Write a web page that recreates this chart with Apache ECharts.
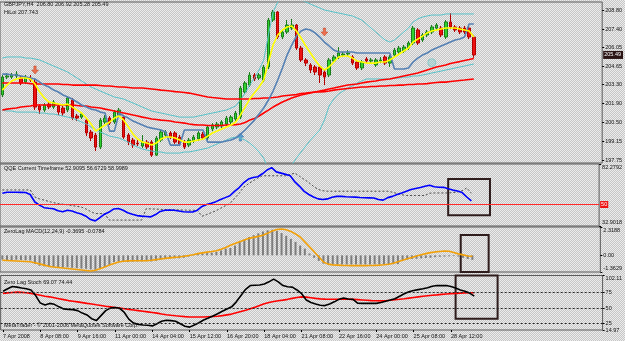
<!DOCTYPE html>
<html><head><meta charset="utf-8">
<script src="https://cdn.jsdelivr.net/npm/echarts/dist/echarts.min.js"></script>
<style>html,body{margin:0;padding:0;background:#d6d6d6;}#c{width:625px;height:341px;}</style>
</head><body><div id="c"></div>
<script>
// ---------- DATA ----------
const timeLabels = ['7 Apr 2008','8 Apr 08:00','9 Apr 16:00','11 Apr 00:00','14 Apr 04:00','15 Apr 12:00','16 Apr 20:00','18 Apr 04:00','21 Apr 08:00','22 Apr 16:00','24 Apr 00:00','25 Apr 08:00','28 Apr 12:00'];
const barsPerLabel = 8;
const slotCount = 129;

const opens = [202.54,203.86,203.86,203.94,203.79,203.49,203.72,203.49,201.73,201.43,
201.87,201.65,201.73,201.58,201.43,202.17,200.99,200.91,200.69,199.81,
199.59,198.70,200.55,200.84,200.55,201.06,200.91,199.59,199.22,199.00,
198.78,199.07,199.07,198.11,199.22,199.59,199.74,199.74,199.44,199.07,
198.85,199.15,199.30,199.66,199.37,200.03,200.18,200.25,200.40,200.55,
200.77,200.91,202.76,203.27,204.01,203.79,203.64,204.60,208.06,208.65,
206.81,207.18,207.47,207.69,206.00,205.12,204.75,204.60,204.60,204.23,
204.01,205.04,205.34,205.48,205.56,205.34,204.97,204.53,205.19,205.04,
204.75,205.04,205.34,204.89,205.48,205.71,205.78,206.00,206.37,207.33,
206.59,206.96,207.18,207.47,207.47,206.81,207.92,207.55,207.47,207.47,
207.47,206.80];
const closes = [203.86,203.94,204.01,204.08,203.42,203.86,203.64,201.65,201.43,201.80,
201.65,202.02,201.28,201.21,202.32,200.84,200.84,201.14,199.74,199.37,
198.70,200.69,200.84,200.47,201.28,201.43,199.44,199.07,198.85,198.93,
199.07,198.70,198.11,199.37,199.81,199.81,199.44,199.07,198.93,198.70,
199.22,199.44,199.74,199.37,200.18,200.33,200.40,200.55,200.84,200.91,
201.21,203.05,203.42,204.01,203.72,204.01,204.60,208.06,208.65,206.81,
207.18,207.69,207.69,206.00,205.12,204.89,204.38,204.23,204.01,203.86,
205.12,205.34,205.63,205.56,205.63,204.89,204.53,204.97,205.04,205.12,
205.12,205.12,204.89,205.34,205.85,206.00,206.07,206.37,207.47,206.37,
206.96,207.18,207.55,207.69,206.96,207.92,207.55,207.33,207.18,207.18,
206.81,205.49];
const highs = [204.01,204.16,204.16,204.30,203.94,204.01,204.01,203.72,201.87,201.95,
202.02,202.17,201.87,201.73,202.46,202.32,201.14,201.28,200.84,199.96,
199.74,200.84,201.06,200.99,201.43,201.58,201.06,199.74,199.37,199.22,
199.59,199.22,199.22,199.51,200.03,199.96,199.88,199.88,199.59,199.22,
199.37,199.59,199.88,199.81,200.33,200.47,200.55,200.69,200.99,201.06,
201.36,203.20,203.57,204.23,204.16,204.16,204.75,208.21,208.80,208.72,
207.33,208.06,208.14,207.77,206.15,205.26,204.89,204.75,204.67,204.38,
205.26,205.48,206.07,205.71,205.85,205.48,205.12,205.12,205.34,205.26,
205.26,205.34,205.48,205.48,206.00,206.15,206.22,206.52,207.62,207.47,
207.11,207.33,207.69,207.84,207.62,208.06,208.58,207.69,207.62,207.62,
207.62,206.92];
const lows = [202.39,203.72,203.72,203.79,203.27,203.35,203.49,201.43,201.14,201.28,
201.50,201.50,201.06,200.99,201.28,200.69,200.62,200.77,199.51,199.15,
198.41,198.56,200.40,200.33,200.40,200.91,199.30,198.85,198.63,198.78,
198.63,198.56,197.97,198.04,199.07,199.44,199.30,198.93,198.78,198.56,
198.70,199.00,199.15,199.22,199.22,199.88,200.03,200.10,200.25,200.40,
200.62,200.77,202.61,203.13,203.57,203.64,203.49,204.45,207.92,206.66,
206.66,207.03,207.33,205.85,204.97,204.67,204.16,204.01,203.42,203.27,
203.86,204.89,205.19,205.34,205.41,204.75,204.38,204.38,204.89,204.89,
204.60,204.89,204.75,204.60,205.34,205.56,205.63,205.85,206.22,206.22,
206.44,206.81,207.03,207.33,206.81,206.66,207.40,207.18,207.03,207.03,
206.66,205.28];
const fastMA = [202.90,203.27,203.57,203.72,203.79,203.79,203.72,203.35,202.76,202.32,
202.02,201.95,201.87,201.80,201.87,201.65,201.43,201.21,200.84,200.40,
199.88,200.10,200.33,200.55,200.84,200.99,200.69,200.18,199.66,199.30,
199.07,199.00,198.85,199.00,199.30,199.44,199.44,199.37,199.22,199.07,
199.07,199.15,199.22,199.30,199.51,199.74,199.88,200.03,200.18,200.33,
200.55,201.06,201.65,202.24,202.68,203.13,203.64,204.97,206.22,206.96,
207.33,207.55,207.62,207.25,206.74,206.15,205.63,205.12,204.67,204.38,
204.60,204.97,205.34,205.41,205.41,205.26,205.04,204.97,204.89,204.89,
204.89,204.97,204.97,205.12,205.34,205.56,205.78,206.00,206.44,206.66,
206.88,207.11,207.25,207.33,207.40,207.47,207.47,207.47,207.40,207.33,
207.25,206.81];
const hiLo = [204.08,204.08,204.01,204.01,203.94,203.86,203.79,203.72,203.49,203.27,
203.13,202.90,202.76,202.54,202.39,202.24,202.02,201.80,201.65,201.50,
201.43,201.28,201.21,199.88,199.88,201.21,200.99,200.84,200.62,200.47,
200.33,200.18,200.10,200.03,199.96,199.81,198.85,198.85,198.85,199.96,
199.96,199.96,199.96,199.96,199.07,199.07,199.07,199.07,199.15,199.22,
199.37,199.66,199.96,200.33,200.69,201.14,201.58,202.17,202.83,203.64,
204.53,205.48,206.22,206.88,207.25,207.40,207.33,207.11,206.81,206.44,
206.15,205.85,205.71,205.71,205.71,205.71,205.63,205.63,205.63,205.63,
205.63,205.63,205.63,205.63,204.45,204.45,204.45,204.53,204.97,205.26,
205.48,205.63,205.85,206.00,206.15,206.29,206.44,206.59,206.66,206.81,
207.77,207.77];
const slowMA = [203.42,203.42,203.42,203.42,203.42,203.42,203.38,203.35,203.35,203.35,
203.35,203.35,203.35,203.31,203.31,203.27,203.27,203.27,203.27,203.27,
203.27,203.24,203.20,203.20,203.16,203.13,203.13,203.09,203.05,203.05,
203.05,203.02,202.98,202.94,202.90,202.87,202.83,202.79,202.76,202.72,
202.68,202.61,202.54,202.46,202.39,202.35,202.32,202.28,202.24,202.24,
202.24,202.24,202.24,202.24,202.28,202.28,202.32,202.32,202.35,202.39,
202.46,202.50,202.54,202.57,202.65,202.68,202.72,202.76,202.76,202.79,
202.83,202.90,202.94,202.98,203.02,203.05,203.09,203.13,203.13,203.16,
203.16,203.20,203.20,203.24,203.24,203.27,203.27,203.31,203.31,203.35,
203.35,203.38,203.42,203.46,203.49,203.49,203.53,203.57,203.61,203.64,
203.68,203.72];
const midMA = [201.43,201.50,201.54,201.58,201.65,201.69,201.73,201.80,201.80,201.80,
201.80,201.80,201.80,201.80,201.80,201.80,201.76,201.73,201.73,201.65,
201.62,201.58,201.50,201.43,201.36,201.28,201.21,201.14,201.06,200.99,
200.91,200.84,200.77,200.73,200.69,200.66,200.62,200.55,200.51,200.47,
200.40,200.36,200.33,200.33,200.29,200.29,200.29,200.29,200.33,200.33,
200.36,200.40,200.51,200.69,200.80,200.99,201.21,201.43,201.65,201.84,
202.02,202.17,202.32,202.43,202.54,202.61,202.68,202.76,202.83,202.90,
202.98,203.05,203.13,203.20,203.27,203.31,203.35,203.42,203.49,203.53,
203.57,203.64,203.68,203.72,203.79,203.86,203.94,204.01,204.08,204.16,
204.27,204.38,204.49,204.60,204.67,204.75,204.86,204.93,205.00,205.08,
205.15,205.23];
const bandUpper = [205.26,205.34,205.34,205.34,205.34,205.26,205.26,205.19,205.12,204.97,
204.82,204.67,204.53,204.38,204.23,204.01,203.79,203.57,203.35,203.13,
202.98,202.83,202.68,202.54,202.39,202.32,202.24,202.09,201.95,201.80,
201.65,201.50,201.36,201.28,201.21,201.14,201.06,200.99,200.91,200.91,
200.91,200.91,200.99,201.06,201.14,201.21,201.28,201.36,201.43,201.58,
201.73,202.17,202.68,203.27,203.79,204.38,205.12,206.96,208.65,209.39,
209.76,209.91,209.91,209.76,209.54,209.39,209.24,209.09,208.95,208.80,
208.73,208.65,208.58,208.51,208.43,208.36,208.21,208.06,207.77,207.47,
207.18,206.88,206.59,206.44,206.59,206.88,207.18,207.47,207.92,208.14,
208.28,208.36,208.43,208.43,208.43,208.51,208.51,208.51,208.51,208.51,
208.51,208.51];
const bandLower = [201.43,201.36,201.36,201.28,201.28,201.28,201.28,201.28,201.21,201.21,
201.14,201.14,201.06,200.99,200.91,200.84,200.69,200.55,200.40,200.18,
199.96,199.81,199.66,199.51,199.44,199.37,199.22,199.07,198.85,198.70,
198.56,198.48,198.41,198.34,198.34,198.26,198.26,198.26,198.26,198.34,
198.34,198.41,198.48,198.56,198.63,198.78,198.93,199.07,199.22,199.37,
199.44,199.37,199.22,199.00,198.70,198.34,197.89,197.01,196.27,196.27,
196.42,196.86,197.38,197.89,198.34,198.78,199.22,199.59,199.96,200.69,
201.73,202.24,202.61,202.83,203.05,203.20,203.42,203.57,203.72,203.72,
203.72,203.72,203.72,203.72,203.79,203.79,203.86,203.86,203.94,203.94,
204.01,204.08,204.16,204.23,204.30,204.38,204.45,204.53,204.60,204.67,
204.75,204.82];
const sellArrows = [{bar: 7, price: 204.38}, {bar: 69, price: 207.18}];
const buyArrows = [{bar: 51, price: 199.44}];
const markerCircle = [{bar: 92, price: 204.92}];
const priceTicks = [208.80, 207.40, 206.05, 204.65, 203.30, 201.90, 200.50, 199.15, 197.75];
const lastPrice = 205.49;

const qqeLine = [59.0,59.8,59.8,59.8,59.7,59.6,58.0,52.0,49.5,47.5,
47.0,46.7,45.0,44.2,45.4,44.8,43.5,42.5,40.7,38.0,
37.0,39.5,42.3,44.0,46.5,46.8,45.5,43.5,42.3,41.2,
40.8,40.5,40.2,42.0,44.5,45.4,45.6,45.4,44.8,44.2,
44.0,44.0,45.5,48.5,50.0,51.0,52.3,54.0,55.5,57.0,
60.5,63.5,67.5,70.3,71.5,72.1,74.5,77.5,79.4,76.0,
75.0,74.0,73.0,68.0,64.5,60.5,58.0,56.0,54.5,54.0,
54.5,55.8,56.5,56.5,56.2,56.0,55.9,55.6,55.4,55.3,
55.2,54.0,53.5,55.5,56.5,58.0,59.2,60.5,62.0,62.8,
63.5,64.5,65.4,64.2,63.8,63.7,62.5,61.5,60.8,59.5,
56.0,52.9];
const qqeTrail = [61.6,61.6,61.6,61.6,61.6,61.6,61.6,56.0,54.5,53.5,
52.5,51.5,50.8,50.3,49.8,49.2,48.6,48.0,46.5,44.5,
42.8,42.8,42.8,37.6,37.6,37.6,37.6,37.6,37.6,37.6,
37.6,46.7,46.5,46.4,46.2,46.0,45.9,45.8,45.7,45.6,
45.5,45.4,45.4,40.7,42.0,43.5,45.0,47.0,49.0,50.7,
55.0,59.0,64.0,66.5,69.0,71.0,72.9,72.9,72.9,72.9,
72.9,72.9,74.0,75.0,72.5,70.0,67.5,64.5,62.0,61.0,
60.6,60.6,60.6,60.6,60.6,60.6,60.6,60.6,60.6,60.6,
60.6,60.6,60.6,60.6,59.8,58.8,57.8,57.2,57.2,57.2,
57.2,57.2,59.0,59.2,59.2,59.2,59.2,59.5,60.0,61.0,
63.2,59.0];
const qqeTicks = [82.2792, 32.9018];
const qqeLevel = 50;

const macdHist = [-0.35,-0.38,-0.38,-0.36,-0.38,-0.40,-0.42,-0.70,-0.85,-0.90,
-0.92,-0.95,-0.98,-1.00,-0.98,-1.02,-1.05,-1.08,-1.10,-1.15,
-1.18,-1.05,-0.95,-0.80,-0.55,-0.50,-0.52,-0.55,-0.52,-0.50,
-0.50,-0.48,-0.50,-0.45,-0.35,-0.28,-0.25,-0.24,-0.24,-0.20,
-0.10,0.05,0.12,0.15,0.18,0.22,0.28,0.40,0.55,0.60,
0.80,1.10,1.30,1.50,1.65,1.80,1.95,2.05,2.10,2.00,
1.82,1.60,1.35,1.10,0.80,0.55,0.15,-0.20,-0.45,-0.68,
-0.75,-0.75,-0.75,-0.75,-0.75,-0.75,-0.75,-0.75,-0.75,-0.75,
-0.74,-0.74,-0.73,-0.73,-0.72,-0.72,-0.40,-0.35,-0.30,-0.28,
-0.25,-0.22,-0.20,-0.15,-0.12,-0.10,-0.08,-0.06,-0.10,-0.20,
-0.30,-0.3695];
const macdSignal = [-0.40,-0.42,-0.44,-0.46,-0.48,-0.50,-0.52,-0.60,-0.70,-0.80,
-0.90,-0.96,-1.00,-1.04,-1.08,-1.12,-1.16,-1.20,-1.24,-1.28,
-1.22,-1.10,-0.96,-0.80,-0.66,-0.54,-0.48,-0.45,-0.44,-0.44,
-0.44,-0.44,-0.40,-0.35,-0.30,-0.25,-0.21,-0.17,-0.13,-0.08,
-0.02,0.05,0.14,0.20,0.26,0.31,0.38,0.50,0.65,0.82,
0.97,1.12,1.26,1.39,1.47,1.55,1.64,1.80,2.00,2.12,
2.16,2.10,1.96,1.75,1.50,1.10,0.70,0.30,-0.11,-0.55,
-0.72,-0.78,-0.80,-0.82,-0.83,-0.84,-0.84,-0.84,-0.84,-0.83,
-0.82,-0.80,-0.77,-0.73,-0.64,-0.52,-0.40,-0.28,-0.17,-0.05,
0.05,0.14,0.22,0.28,0.32,0.35,0.34,0.24,0.12,0.04,
-0.05,-0.0784];
const macdTicks = [2.3188, 0, -1.3629];

const stochMain = [77,81,84.5,83.5,82,81,79,70,58,55,
57.5,56,52,48.7,48,47.5,46,42,39,33,
30,38,46,50,51,49.5,43,32,26,24,
23,22.5,21.5,25,29,30.5,30,29,25,21,
19.6,23,26.5,31,34,37.5,41,45,48.5,52,
60,70,80,86,86.5,87,88.5,92,96.4,92,
86,84,83.5,79,73,63,59,56.5,54.5,54,
56.5,60,64,66,64.5,64,58,57.5,57.5,57.5,
57.5,59,61,63,65,69,73,76,78,79.5,
80.8,82.5,85,86,86,86,84.5,82,79,77,
74,69.07];
const stochSignal = [73.5,74.3,75,75.6,75.2,74.5,73.5,72,70.5,69,
68,66.5,65,63.5,62,61,60,58.8,57.6,56.5,
55.3,54.2,53,52,51,50,49,48,47,46,
45,44,43,42,40.5,39.4,38.5,37.7,37,36.3,
35.8,35.7,35.7,35.8,36.2,36.6,37,38,39.2,40.4,
42.5,44.5,46.5,48.8,51.5,54,57,59,60.5,61.8,
62.8,64,65.5,67,68,67.5,66.5,65.5,64.8,64.3,
64.2,64.2,64.2,64.2,64.2,64,63.5,63,62.5,62,
61.7,61.6,61.8,62.5,63.5,64.2,65,66,67,68,
69,69.8,70.5,71.2,72,72.6,73.1,73.6,74,74.4,
74.6,74.44];
const stochTicks = [102.11, 75, 50, 25, 14.97];
const stochLevels = [75, 50, 25];

// drawn rectangles (bar index range, value range) per sub-window
const boxQQE = {from: 96, to: 105, top: 70.3, bottom: 41.5};
const boxMACD = {from: 97, to: 106, top: 1.66, bottom: -1.3629};
const boxStoch = {from: 97, to: 106, top: 102.11, bottom: 33.0};

// ---------- CHART ----------
const FONT = 'Liberation Sans';
const FS = 5.5;
const categories = Array.from({length: slotCount}, (_, i) => String(i));

(function(){
  const cv = document.createElement('canvas'); cv.width = 2; cv.height = 2;
  const cx = cv.getContext('2d');
  cx.fillStyle = '#c6c6c6'; cx.fillRect(0,0,2,2);
  cx.fillStyle = '#ececec'; cx.fillRect(0,0,1,1); cx.fillRect(1,1,1,1);
  document.getElementById('c').style.background = 'url(' + cv.toDataURL() + ')';
})();

const chart = echarts.init(document.getElementById('c'), null, {renderer: 'canvas'});

const grids = [
  {left: 0, right: 22, top: 2, height: 161},
  {left: 0, right: 22, top: 164, height: 62},
  {left: 0, right: 22, top: 227, height: 45},
  {left: 0, right: 22, top: 275.5, height: 54.5}
].map(g => Object.assign({show: true, borderColor: '#5c5c5c', borderWidth: 1, backgroundColor: 'transparent'}, g));

function xAx(gi, withLabels) {
  const showIdx = (i) => i % barsPerLabel === 0 && i / barsPerLabel < timeLabels.length;
  return {
    type: 'category', gridIndex: gi, data: categories, boundaryGap: true,
    axisLine: {show: false}, splitLine: {show: false},
    axisTick: withLabels ? {show: true, alignWithLabel: true, length: 2, interval: showIdx, lineStyle: {color: '#000'}} : {show: false},
    axisLabel: withLabels ? {
      show: true, interval: showIdx, align: 'left', margin: 3,
      fontFamily: FONT, fontSize: FS, color: '#111',
      formatter: (v, i) => timeLabels[Math.round(i / barsPerLabel)] || ''
    } : {show: false}
  };
}
function yAx(gi, min, max, ticks, fmt, bottomPad) {
  const fmtOf = (v) => {
    const t = fmt(v);
    if (Math.abs(v - max) < 1e-6) return '{t|' + t + '}';
    if (Math.abs(v - min) < 1e-6) return '{b|' + t + '}';
    return t;
  };
  return {
    type: 'value', gridIndex: gi, position: 'right', min: min, max: max, scale: true,
    splitLine: {show: false}, axisLine: {show: false},
    axisTick: {show: true, length: 2, customValues: ticks, lineStyle: {color: '#000'}},
    axisLabel: {
      show: true, customValues: ticks, margin: 3, fontFamily: FONT, fontSize: FS, color: '#111',
      hideOverlap: false, showMinLabel: true, showMaxLabel: true,
      formatter: fmtOf,
      rich: {t: {fontFamily: FONT, fontSize: FS, color: '#111', padding: [6, 0, 0, 0]},
             b: {fontFamily: FONT, fontSize: FS, color: '#111', padding: [0, 0, bottomPad, 0]}}
    }
  };
}
const fmt2 = (v) => v.toFixed(2);
const fmtRaw = (v) => (v === 0 ? '0.00' : String(v));

function lineS(name, data, color, width, gi, extra) {
  return Object.assign({
    name: name, type: 'line', data: data, xAxisIndex: gi, yAxisIndex: gi,
    showSymbol: false, symbol: 'none', animation: false, silent: true,
    lineStyle: {color: color, width: width}
  }, extra || {});
}
function boxArea(b) {
  return {
    silent: true,
    itemStyle: {color: 'rgba(0,0,0,0)', borderColor: '#2e1c1c', borderWidth: 2},
    data: [[{xAxis: b.from, yAxis: b.top}, {xAxis: b.to, yAxis: b.bottom}]]
  };
}

const candleData = opens.map((o, i) => [o, closes[i], lows[i], highs[i]]);
const downArrow = 'path://M3,0 L6,0 L6,5 L9,5 L4.5,10 L0,5 L3,5 Z';
const upArrow = 'path://M4.5,0 L9,5 L6,5 L6,10 L3,10 L3,5 L0,5 Z';

const option = {
  animation: false,
  backgroundColor: 'transparent',
  textStyle: {fontFamily: FONT},
  grid: grids,
  xAxis: [xAx(0, false), xAx(1, false), xAx(2, false), xAx(3, true)],
  yAxis: [
    yAx(0, 197.53, 209.39, priceTicks, fmt2, 8),
    yAx(1, 32.9018, 82.2792, qqeTicks, fmtRaw, 8),
    yAx(2, -1.3629, 2.3188, macdTicks, fmtRaw, 8),
    yAx(3, 14.97, 102.11, stochTicks, fmtRaw, 0)
  ],
  series: [
    lineS('bandUpper', bandUpper, '#56c2c9', 1, 0),
    lineS('bandLower', bandLower, '#56c2c9', 1, 0),
    lineS('slowMA', slowMA, '#ff0000', 1.6, 0),
    lineS('midMA', midMA, '#ff0000', 1.6, 0),
    lineS('hiLo', hiLo, '#5581b4', 1.6, 0),
    {
      name: 'price', type: 'candlestick', data: candleData, xAxisIndex: 0, yAxisIndex: 0,
      barWidth: 3, silent: true,
      itemStyle: {color: '#2fd22f', color0: '#ee1111', borderColor: '#1a7d1a', borderColor0: '#b40000', borderWidth: 1},
      markLine: {
        silent: true, symbol: 'none',
        lineStyle: {color: 'rgba(0,0,0,0)', width: 0.5},
        label: {show: true, position: 'end', distance: 1, formatter: lastPrice.toFixed(2), backgroundColor: '#2b1414',
          color: '#ffffff', fontFamily: FONT, fontSize: FS, padding: [1, 2, 1, 1]},
        data: [{yAxis: lastPrice}]
      }
    },
    lineS('fastMA', fastMA, '#ffff00', 1.6, 0),
    {
      name: 'sell', type: 'scatter', xAxisIndex: 0, yAxisIndex: 0, silent: true,
      symbol: downArrow, symbolSize: [7, 8],
      itemStyle: {color: '#f2552d', borderColor: '#b03010', borderWidth: 0.5},
      data: sellArrows.map(a => [a.bar, a.price])
    },
    {
      name: 'buy', type: 'scatter', xAxisIndex: 0, yAxisIndex: 0, silent: true,
      symbol: upArrow, symbolSize: [7, 8],
      itemStyle: {color: '#3c8fd0', borderColor: '#1b5f95', borderWidth: 0.5},
      data: buyArrows.map(a => [a.bar, a.price])
    },
    {
      name: 'marker', type: 'scatter', xAxisIndex: 0, yAxisIndex: 0, silent: true,
      symbol: 'circle', symbolSize: 8,
      itemStyle: {color: 'rgba(120,200,200,0.45)', borderColor: '#7cc6c6', borderWidth: 1},
      data: markerCircle.map(a => [a.bar, a.price])
    },
    // QQE
    lineS('qqeTrail', qqeTrail, '#4a4a4a', 1, 1, {lineStyle: {color: '#4a4a4a', width: 1, type: [2, 2]}}),
    lineS('qqe', qqeLine, '#0000ff', 1.6, 1, {
      markLine: {silent: true, symbol: 'none', lineStyle: {color: '#ff2a2a', width: 1, type: 'solid'},
        label: {position: 'end', distance: 1, formatter: String(qqeLevel), backgroundColor: '#ee1111', color: '#fff',
          fontFamily: FONT, fontSize: FS, padding: [1, 1, 0, 1]},
        data: [{yAxis: qqeLevel}]},
      markArea: boxArea(boxQQE)
    }),
    // MACD
    {
      name: 'macdHist', type: 'bar', data: macdHist, xAxisIndex: 2, yAxisIndex: 2, barWidth: 2, silent: true,
      itemStyle: {color: '#7d7d7d'}, markArea: boxArea(boxMACD)
    },
    lineS('macdSignal', macdSignal, '#f2a007', 1.6, 2),
    // Stoch
    lineS('stochSignal', stochSignal, '#ff0000', 1.6, 3, {
      markLine: {silent: true, symbol: 'none', label: {show: false},
        lineStyle: {color: '#222', width: 1, type: [2, 2]},
        data: stochLevels.map(v => ({yAxis: v}))},
      markArea: boxArea(boxStoch)
    }),
    lineS('stochMain', stochMain, '#000000', 1.6, 3)
  ],
  graphic: [
    {type: 'text', x: 4, y: 4.5, style: {text: 'GBPJPY,H4  206.80 206.92 205.28 205.49', font: FS + 'px ' + FONT, fill: '#111', verticalAlign: 'middle'}},
    {type: 'text', x: 4, y: 12, style: {text: 'HiLoi 207.743', font: FS + 'px ' + FONT, fill: '#111', verticalAlign: 'middle'}},
    {type: 'text', x: 4, y: 168.5, style: {text: 'QQE Current Timeframe 52.9095 56.6729 58.9989', font: FS + 'px ' + FONT, fill: '#111', verticalAlign: 'middle'}},
    {type: 'text', x: 4, y: 231.5, style: {text: 'ZeroLag MACD(12,24,9) -0.3695 -0.0784', font: FS + 'px ' + FONT, fill: '#111', verticalAlign: 'middle'}},
    {type: 'text', x: 4, y: 282, style: {text: 'Zero Lag Stoch 69.07 74.44', font: FS + 'px ' + FONT, fill: '#111', verticalAlign: 'middle'}},
    {type: 'text', x: 4, y: 325.5, style: {text: 'MetaTrader - © 2001-2006 MetaQuotes Software Corp.', font: FS + 'px ' + FONT, fill: '#111', verticalAlign: 'middle'}}
  ]
};
chart.setOption(option);
</script></body></html>
